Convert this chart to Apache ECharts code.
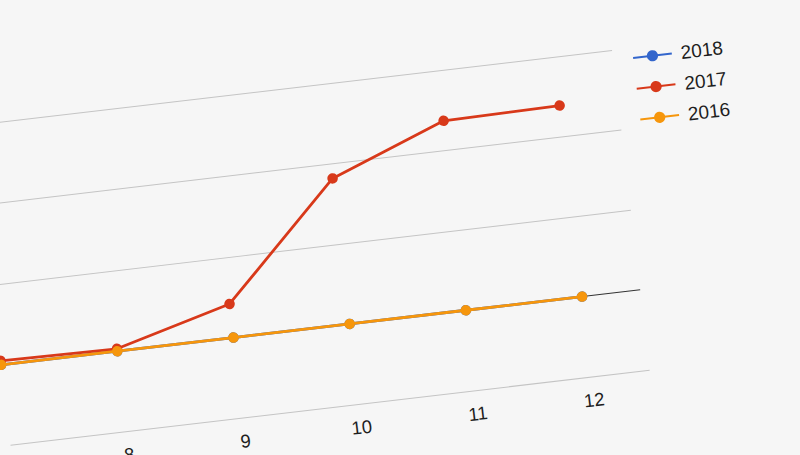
<!DOCTYPE html>
<html>
<head>
<meta charset="utf-8">
<script src="https://cdn.jsdelivr.net/npm/echarts@6/dist/echarts.min.js"></script>
<style>
html,body{margin:0;padding:0;width:800px;height:455px;overflow:hidden;background:#f6f6f6;}
#chart{position:absolute;left:-150px;top:-100px;width:1000px;height:700px;transform-origin:150px 100px;transform:rotate(-6.7deg);}
</style>
</head>
<body>
<div id="chart"></div>
<script>
const months = [7, 8, 9, 10, 11, 12];
const seriesNames = ['2018', '2017', '2016'];
const values2018 = [0, 0, 0, 0, 0, 0];
const values2017 = [5, 3, 42, 182, 237, 239];
const values2016 = [0, 0, 0, 0, 0, 0];
const colors = ['#3366cc', '#d8391a', '#f6960c'];

const allValues = [values2018, values2017, values2016];
const chart = echarts.init(document.getElementById('chart'), null, {renderer: 'svg'});
chart.setOption({
  backgroundColor: '#f6f6f6',
  animation: false,
  color: colors,
  textStyle: {fontFamily: 'Liberation Sans, Arial, sans-serif'},
  grid: {left: 108.5, right: 248, top: 221, bottom: 157, containLabel: false},
  legend: {
    orient: 'vertical',
    left: 766,
    top: 217,
    itemWidth: 39,
    itemHeight: 14,
    itemGap: 12,
    textStyle: {fontSize: 19, color: '#1e1e1e', padding: [2, 0, 0, 4]},
    data: seriesNames
  },
  xAxis: {
    type: 'value',
    min: 7,
    max: 12.5,
    interval: 1,
    axisLine: {show: false},
    axisTick: {show: false},
    splitLine: {show: false},
    axisLabel: {
      fontSize: 18.5,
      color: '#1e1e1e',
      margin: 14,
      showMinLabel: false,
      formatter: v => Number.isInteger(v) ? String(v) : ''
    }
  },
  yAxis: {
    type: 'value',
    min: -100,
    max: 300,
    interval: 100,
    axisLine: {show: false},
    axisTick: {show: false},
    axisLabel: {show: false},
    splitLine: {lineStyle: {color: ['#c4c4c4', '#333333', '#c4c4c4', '#c4c4c4', '#c4c4c4'], width: 1}}
  },
  series: seriesNames.map((name, i) => ({
    name: name,
    type: 'line',
    data: months.map((m, j) => [m, allValues[i][j]]),
    symbol: 'circle',
    symbolSize: 10.5,
    showSymbol: true,
    lineStyle: {width: 2.8, color: colors[i]},
    itemStyle: {color: colors[i]},
    z: 2 + i
  }))
});
</script>
</body>
</html>
